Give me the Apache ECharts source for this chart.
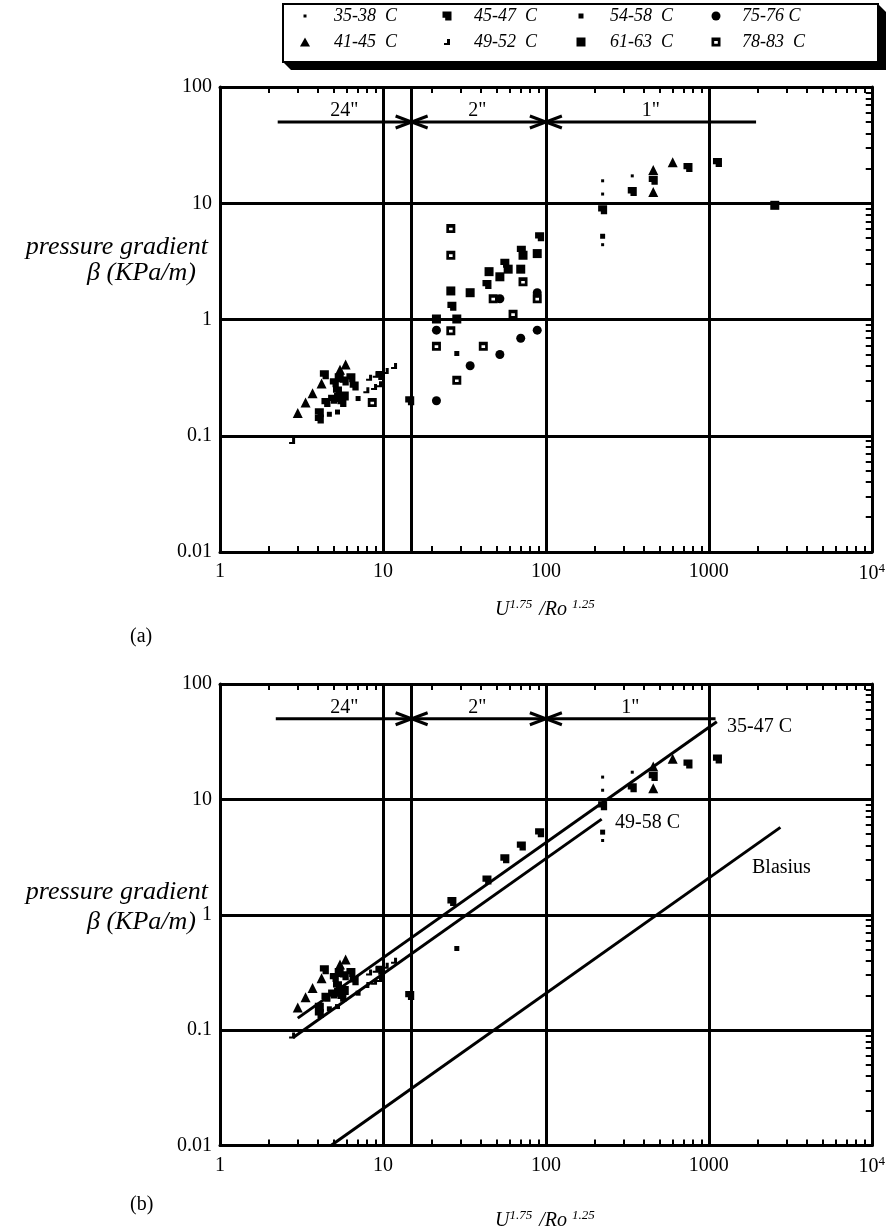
<!DOCTYPE html>
<html><head><meta charset="utf-8">
<script src="https://cdn.jsdelivr.net/npm/echarts@6/dist/echarts.min.js"></script>
<style>html,body{margin:0;padding:0;background:#fff}#c{width:888px;height:1232px}</style>
</head><body><div id="c"></div>
<script>
// ---------------- data ----------------
const xTickLabels = ['1', '10', '100', '1000', '{b|10}{s|4}'];
const yTickLabels = ['0.01', '0.1', '1', '10', '100'];
const seriesNames = ['35-38  C', '41-45  C', '45-47  C', '49-52  C', '54-58  C', '61-63  C', '75-76 C', '78-83  C'];

// 35-38 C
const x35 = [223, 223, 223, 339];
const y35 = [15.6, 12.0, 4.4, 17.2];
// 41-45 C
const x41 = [3.0, 3.35, 3.7, 4.2, 5.45, 5.9, 456, 456, 600];
const y41 = [0.157, 0.193, 0.232, 0.282, 0.37, 0.41, 19.3, 12.5, 22.5];
// 45-47 C
const x45 = [4.07, 4.07, 4.37, 4.47, 4.91, 5.03, 5.26, 5.34, 5.39, 5.6, 5.79, 5.79, 6.36, 6.66, 9.6, 14.6, 26.5, 43.5, 56, 70.7, 91.5, 223, 339, 456, 745, 1130];
const y45 = [0.139, 0.158, 0.334, 0.193, 0.206, 0.286, 0.243, 0.213, 0.316, 0.193, 0.296, 0.22, 0.316, 0.268, 0.33, 0.2, 1.3, 2.0, 3.05, 3.95, 5.15, 8.8, 12.6, 15.8, 20.3, 22.4];
// 49-52 C
const x49 = [2.77, 7.91, 8.22, 8.82, 9.03, 9.46, 10.4, 11.7];
const y49 = [0.09, 0.246, 0.316, 0.263, 0.334, 0.278, 0.361, 0.399];
// 54-58 C
const x54 = [4.69, 5.26, 7.04, 28.4, 223];
const y54 = [0.153, 0.16, 0.209, 0.51, 5.2];
// 61-63 C
const x61 = [21.3, 26.1, 28.4, 34.3, 44.8, 52.2, 58.7, 70.1, 72.4, 88.5, 2540];
const y61 = [1.01, 1.76, 1.01, 1.70, 2.58, 2.33, 2.71, 2.71, 3.57, 3.69, 9.6];
// 75-76 C
const x75 = [21.3, 21.3, 34.3, 52.2, 52.2, 70.1, 88.5, 88.5];
const y75 = [0.2, 0.81, 0.40, 0.50, 1.51, 0.69, 0.81, 1.70];
// 78-83 C
const x78 = [8.6, 21.3, 26.1, 26.1, 26.1, 28.4, 41.3, 47.5, 62.9, 72.4, 88.5];
const y78 = [0.193, 0.59, 0.80, 3.57, 6.06, 0.30, 0.59, 1.51, 1.11, 2.11, 1.51];

// fitted lines in panel (b)
const fitNames = ['35-47 C', '49-58 C', 'Blasius'];
const fitX = [[3.0, 1120], [2.8, 220], [4.8, 2750]];
const fitY = [[0.127, 47], [0.086, 6.74], [0.01, 5.72]];

// pipe-size ranges (arrows)
const pipeLabels = ['24"', '2"', '1"'];
const pipeBreaks = [15, 100];
const pipeLevel = 50;
const pipeSpanA = [2.26, 1950];
const pipeSpanB = [2.2, 1100];
const pipeLabelXA = [5.8, 38, 440];
const pipeLabelXB = [5.8, 38, 330];
const diameterLine = 15;

// ---------------- styles ----------------
const SERIF = '"Liberation Serif", "Times New Roman", serif';
const seriesXY = [[x35, y35], [x41, y41], [x45, y45], [x49, y49], [x54, y54], [x61, y61], [x75, y75], [x78, y78]];
const SYM = [
  {symbol: 'rect', size: 3, lw: 3, lh: 3},
  {symbol: 'triangle', size: 10, lw: 10, lh: 9},
  {symbol: 'path://M0,0 L10,0 L10,10 L3,10 L3,7 L0,7 Z', size: 9, lw: 9, lh: 9},
  {symbol: 'path://M3,0 L6,0 L6,6 L0,6 L0,4 L3,4 Z', size: 6, lw: 6, lh: 6},
  {symbol: 'rect', size: 5, lw: 5, lh: 5},
  {symbol: 'rect', size: 9, lw: 9, lh: 9},
  {symbol: 'circle', size: 9, lw: 9, lh: 9},
  {symbol: 'path://M0,0 L10,0 L10,10 L0,10 Z M3,4 L3,7 L7,7 L7,4 Z', size: 9, lw: 9, lh: 9}
];
const inPanelB = [true, true, true, true, true, false, false, false];

const BLACK = '#000';
const grids = [
  {left: 220, top: 87, width: 655, height: 465},
  {left: 220, top: 684, width: 652, height: 465}
];

function xLabel(v) { return xTickLabels[Math.round(Math.log10(v))]; }
function yLabel(v) { return yTickLabels[Math.round(Math.log10(v)) + 2]; }

const xAxes = [], yAxes = [];
grids.forEach((g, gi) => {
  xAxes.push({
    type: 'log', logBase: 10, gridIndex: gi, min: 1, max: 10000, position: 'bottom',
    axisLine: {show: true, lineStyle: {color: BLACK, width: 3}},
    axisTick: {show: false, inside: true},
    minorTick: {show: true, splitNumber: 9, length: 6, lineStyle: {color: BLACK, width: 2}},
    axisLabel: {show: true, margin: 10, formatter: xLabel, color: BLACK, fontFamily: SERIF, fontSize: 20,
      rich: {b: {fontFamily: SERIF, fontSize: 20, color: BLACK}, s: {fontFamily: SERIF, fontSize: 13, color: BLACK, verticalAlign: 'top', padding: [0, 0, 10, 0]}}},
    splitLine: {show: true, lineStyle: {color: BLACK, width: 3}},
    name: '{i|U}{s|1.75}{i| /Ro }{s|1.25}', nameLocation: 'middle', nameGap: gi === 0 ? 46 : 64,
    nameTextStyle: {rich: {
      i: {fontFamily: SERIF, fontStyle: 'italic', fontSize: 20, color: BLACK},
      s: {fontFamily: SERIF, fontStyle: 'italic', fontSize: 13, color: BLACK, verticalAlign: 'top', padding: [0, 2, 10, 0]}
    }}
  });
  xAxes.push({
    type: 'log', logBase: 10, gridIndex: gi, min: 1, max: 10000, position: 'top',
    axisLine: {show: true, lineStyle: {color: BLACK, width: 3}},
    axisTick: {show: false, inside: true},
    minorTick: {show: true, splitNumber: 9, length: 6, lineStyle: {color: BLACK, width: 2}},
    axisLabel: {show: false}, splitLine: {show: false}
  });
  yAxes.push({
    type: 'log', logBase: 10, gridIndex: gi, min: 0.01, max: 100, position: 'left',
    axisLine: {show: true, lineStyle: {color: BLACK, width: 3}},
    axisTick: {show: false}, minorTick: {show: false},
    axisLabel: {show: true, margin: 8, formatter: yLabel, color: BLACK, fontFamily: SERIF, fontSize: 20},
    splitLine: {show: true, lineStyle: {color: BLACK, width: 3}}
  });
  yAxes.push({
    type: 'log', logBase: 10, gridIndex: gi, min: 0.01, max: 100, position: 'right',
    axisLine: {show: true, lineStyle: {color: BLACK, width: 3}},
    axisTick: {show: false, inside: true},
    minorTick: {show: true, splitNumber: 9, length: 6, lineStyle: {color: BLACK, width: 2}},
    axisLabel: {show: false}, splitLine: {show: false}
  });
});

function pairs(xs, ys) { return xs.map((x, i) => [x, ys[i]]); }

const series = [];
// panel (a)
seriesNames.forEach((n, i) => {
  const s = {
    name: n, type: 'scatter', xAxisIndex: 0, yAxisIndex: 0,
    symbol: SYM[i].symbol, symbolSize: SYM[i].size, symbolKeepAspect: true,
    itemStyle: {color: BLACK, opacity: 1},
    data: pairs(seriesXY[i][0], seriesXY[i][1]), z: 5
  };
  if (i === 0) {
    s.markLine = {silent: true, symbol: 'none', label: {show: false},
      lineStyle: {color: BLACK, width: 3, type: 'solid'}, data: [{xAxis: diameterLine}]};
  }
  series.push(s);
});
// panel (b)
seriesNames.forEach((n, i) => {
  if (!inPanelB[i]) return;
  const s = {
    name: n, type: 'scatter', xAxisIndex: 2, yAxisIndex: 2,
    symbol: SYM[i].symbol, symbolSize: SYM[i].size, symbolKeepAspect: true,
    itemStyle: {color: BLACK, opacity: 1},
    data: pairs(seriesXY[i][0], seriesXY[i][1]), z: 5
  };
  if (i === 0) {
    s.markLine = {silent: true, symbol: 'none', label: {show: false},
      lineStyle: {color: BLACK, width: 3, type: 'solid'}, data: [{xAxis: diameterLine}]};
  }
  series.push(s);
});
fitNames.forEach((n, i) => {
  series.push({
    name: n, type: 'line', xAxisIndex: 2, yAxisIndex: 2, symbol: 'none', silent: true,
    lineStyle: {color: BLACK, width: 3}, data: pairs(fitX[i], fitY[i]), z: 4,
    endLabel: {show: false}
  });
});

function makeArrowRender(labelXs) {
  return function (params, api) {
    const x0 = api.value(0), x1 = api.value(1), lv = api.value(2);
    const p0 = api.coord([x0, lv]), p1 = api.coord([x1, lv]);
    const st = {stroke: BLACK, lineWidth: 3, fill: null};
    const kids = [{type: 'line', shape: {x1: p0[0], y1: p0[1], x2: p1[0], y2: p1[1]}, style: st}];
    pipeBreaks.forEach(b => {
      const p = api.coord([b, lv]);
      kids.push({type: 'polyline', shape: {points: [[p[0] - 16, p[1] - 6], [p[0], p[1]], [p[0] - 16, p[1] + 6]]}, style: st});
      kids.push({type: 'polyline', shape: {points: [[p[0] + 16, p[1] - 6], [p[0], p[1]], [p[0] + 16, p[1] + 6]]}, style: st});
    });
    labelXs.forEach((lx, k) => {
      const p = api.coord([lx, lv]);
      kids.push({type: 'text', style: {text: pipeLabels[k], x: p[0], y: p[1] - 11, align: 'center', verticalAlign: 'middle',
        font: '20px ' + SERIF, fill: BLACK}});
    });
    return {type: 'group', children: kids};
  };
}
series.push({type: 'custom', xAxisIndex: 0, yAxisIndex: 0, silent: true, z: 6,
  renderItem: makeArrowRender(pipeLabelXA), data: [[pipeSpanA[0], pipeSpanA[1], pipeLevel]]});
series.push({type: 'custom', xAxisIndex: 2, yAxisIndex: 2, silent: true, z: 6,
  renderItem: makeArrowRender(pipeLabelXB), data: [[pipeSpanB[0], pipeSpanB[1], pipeLevel]]});

// legends: one per entry
const legendIconX = [305, 447, 581, 716];
const legendTextX = [334, 474, 610, 742];
const legendRowY = [17, 43];
const legendPos = [[0, 0], [0, 1], [1, 0], [1, 1], [2, 0], [2, 1], [3, 0], [3, 1]];
const legends = seriesNames.map((n, i) => {
  const [c, r] = legendPos[i];
  const w = SYM[i].lw, h = SYM[i].lh;
  const left = legendIconX[c] - w / 2;
  const pad = legendTextX[c] - (left + w + 5);
  return {
    data: [n], left: left, top: legendRowY[r] - 10, orient: 'horizontal', padding: 0,
    itemWidth: w, itemHeight: h, selectedMode: false, z: 10,
    textStyle: {fontFamily: SERIF, fontStyle: 'italic', fontSize: 18, color: BLACK, padding: [0, 0, 0, pad]}
  };
});

const option = {
  animation: false,
  backgroundColor: '#fff',
  grid: grids,
  xAxis: xAxes,
  yAxis: yAxes,
  legend: legends,
  series: series,
  graphic: [
    {type: 'polygon', z: 0, shape: {points: [[878, 4], [886, 12], [886, 70], [291, 70], [283, 62], [878, 62]]}, style: {fill: BLACK}},
    {type: 'rect', z: 1, shape: {x: 283, y: 4, width: 595, height: 58}, style: {fill: '#fff', stroke: BLACK, lineWidth: 2}},
    {type: 'text', z: 2, style: {text: 'pressure gradient', x: 208, y: 247, align: 'right', verticalAlign: 'middle', font: 'italic 26px ' + SERIF, fill: BLACK}},
    {type: 'text', z: 2, style: {text: 'β (KPa/m)', x: 87, y: 273, align: 'left', verticalAlign: 'middle', font: 'italic 26px ' + SERIF, fill: BLACK}},
    {type: 'text', z: 2, style: {text: 'pressure gradient', x: 208, y: 892, align: 'right', verticalAlign: 'middle', font: 'italic 26px ' + SERIF, fill: BLACK}},
    {type: 'text', z: 2, style: {text: 'β (KPa/m)', x: 87, y: 922, align: 'left', verticalAlign: 'middle', font: 'italic 26px ' + SERIF, fill: BLACK}},
    {type: 'text', z: 2, style: {text: '(a)', x: 130, y: 637, align: 'left', verticalAlign: 'middle', font: '20px ' + SERIF, fill: BLACK}},
    {type: 'text', z: 2, style: {text: '(b)', x: 130, y: 1205, align: 'left', verticalAlign: 'middle', font: '20px ' + SERIF, fill: BLACK}},
    {type: 'text', z: 2, style: {text: fitNames[0], x: 727, y: 727, align: 'left', verticalAlign: 'middle', font: '20px ' + SERIF, fill: BLACK}},
    {type: 'text', z: 2, style: {text: fitNames[1], x: 615, y: 823, align: 'left', verticalAlign: 'middle', font: '20px ' + SERIF, fill: BLACK}},
    {type: 'text', z: 2, style: {text: fitNames[2], x: 752, y: 868, align: 'left', verticalAlign: 'middle', font: '20px ' + SERIF, fill: BLACK}}
  ]
};
const chart = echarts.init(document.getElementById('c'));
chart.setOption(option);
</script>
</body></html>
